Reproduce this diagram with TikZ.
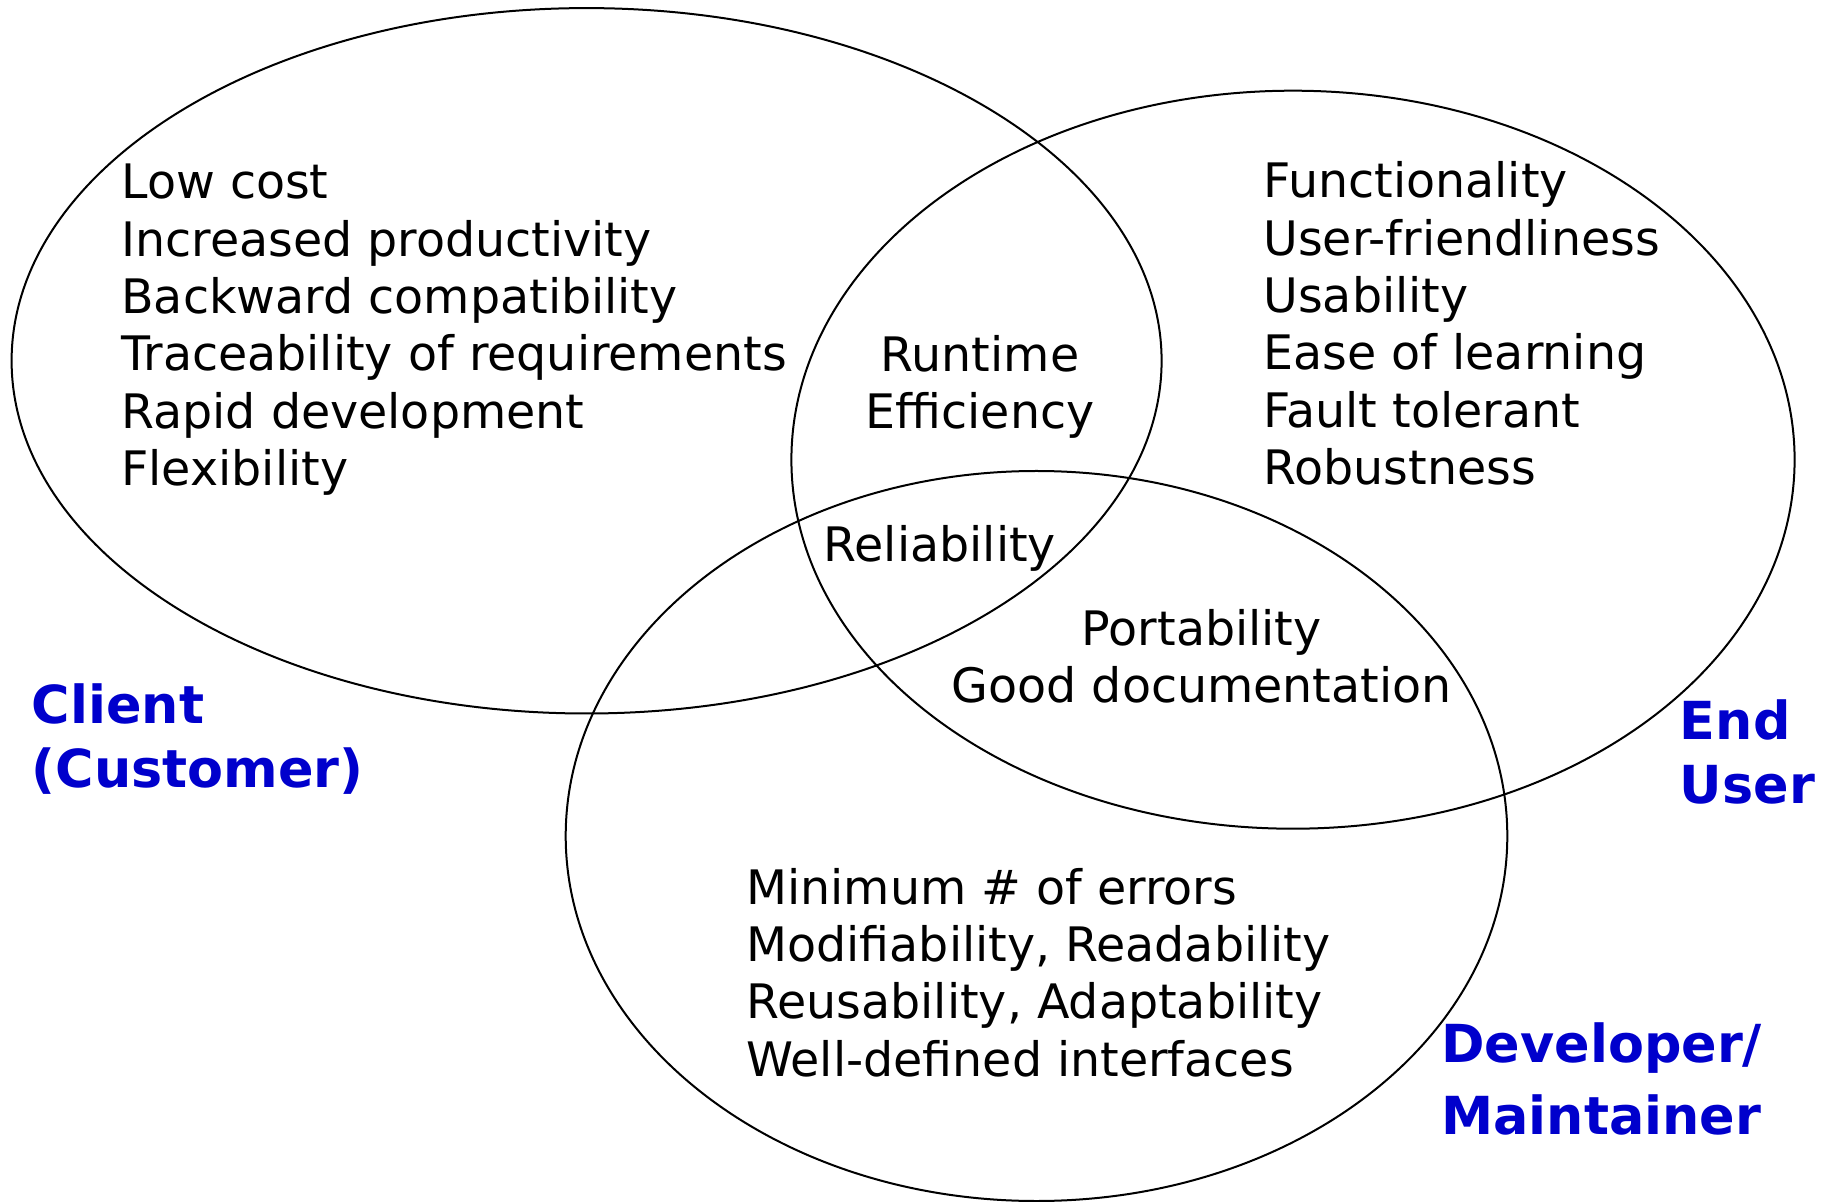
\documentclass[tikz,border=0pt]{standalone}
\usepackage{fontspec}
\setmainfont{DejaVu Sans}
\definecolor{roleblue}{HTML}{0000CC}
\tikzset{
	venn/.style={line width=1pt},
	goal/.style={inner sep=0pt, align=left, font=\fontsize{23.75}{28.65}\selectfont},
	role/.style={inner sep=0pt, align=left, text=roleblue, font=\fontsize{26.2}{32}\selectfont\bfseries}
}
\begin{document}
\begin{tikzpicture}[x=0.5pt,y=-0.5pt]
	\useasboundingbox (0,0) rectangle (1825,1202);
	% the three stakeholder sets
	\draw[venn] (586.6,360.8) ellipse [x radius=575, y radius=352.7];
	\draw[venn] (1293,459.7) ellipse [x radius=501.6, y radius=369];
	\draw[venn] (1036.5,836) ellipse [x radius=470.8, y radius=365];
	
	% nodes sit on the baseline of their last line
	\node[goal, anchor=base west] (clientgoals) at (121,485.5) {Low cost\\Increased productivity\\Backward compatibility\\Traceability of requirements\\Rapid development\\Flexibility};
	\node[goal, anchor=base west] (usergoals) at (1263,484.5) {Functionality\\User-friendliness\\Usability\\Ease of learning\\Fault tolerant\\Robustness};
	\node[goal, anchor=base west] (devgoals) at (746,1076) {Minimum \# of errors\\Modifiability, Readability\\Reusability, Adaptability\\Well-defined interfaces};
	\node[goal, align=center, anchor=base] (runtime) at (980,428.5) {Runtime\\Efficiency};
	\node[goal, anchor=base] (reliab) at (939.8,562) {Reliability};
	\node[goal, align=center, anchor=base] (portab) at (1201.7,703) {Portability\\Good documentation};
	
	\node[role, anchor=base west] (client) at (31.4,787) {Client\\(Customer)};
	\node[role, anchor=base west] (enduser) at (1679.5,803) {End\\User};
	\node[role, anchor=base west, font=\fontsize{26.2}{36}\selectfont\bfseries] (developer) at (1441,1134.8) {Developer/\\Maintainer};
\end{tikzpicture}
\end{document}
